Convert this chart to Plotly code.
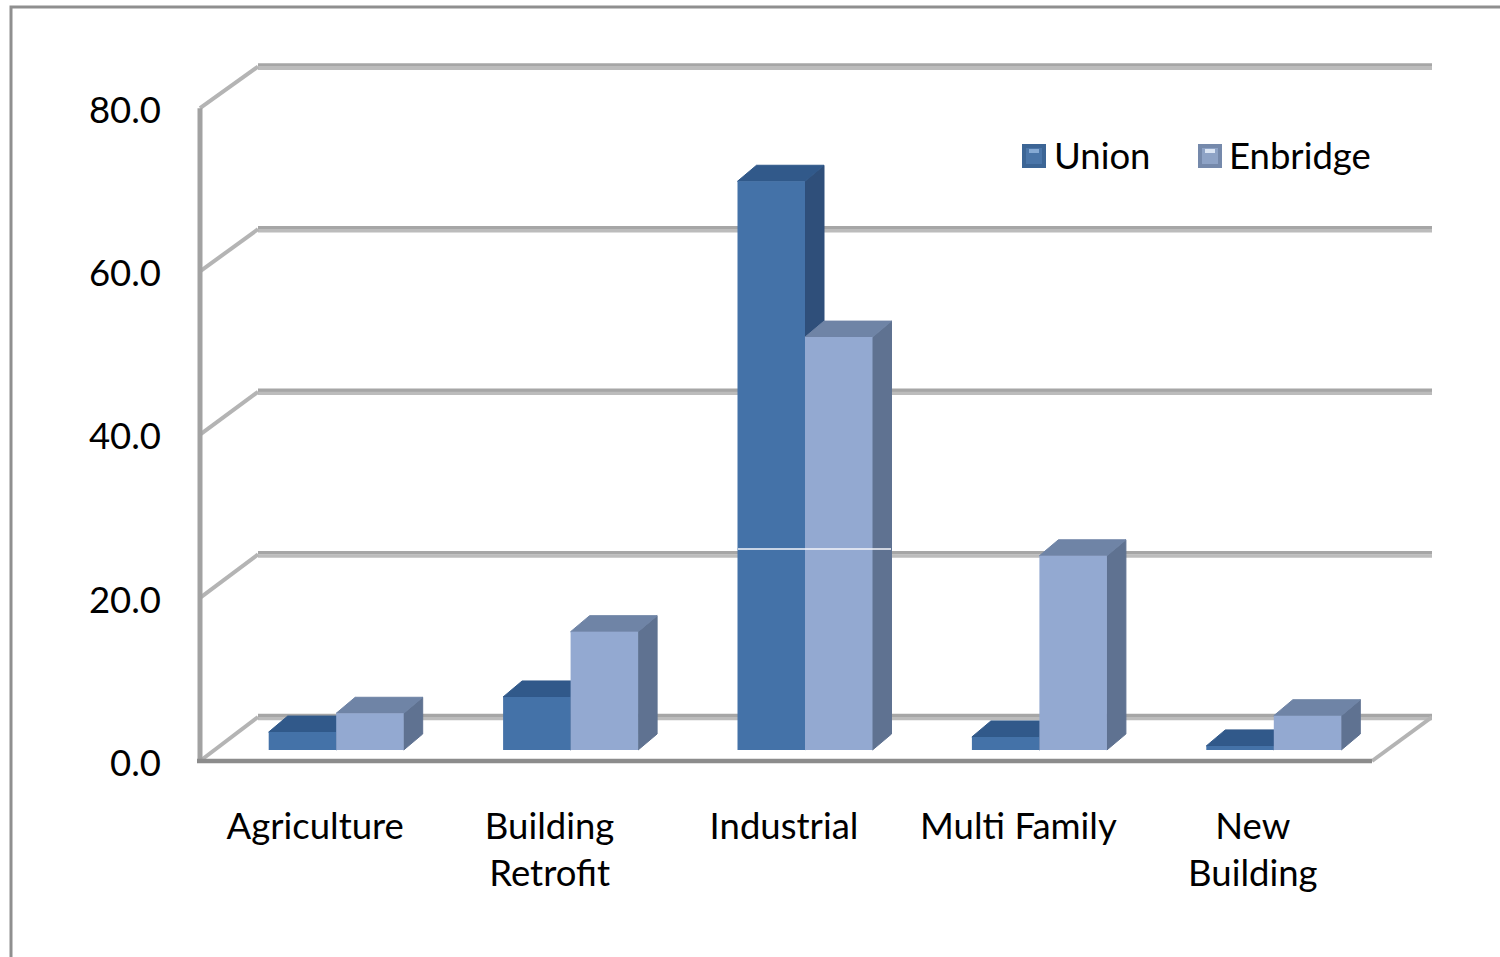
import plotly.graph_objects as go

# Chart data
categories = ["Agriculture", "Building<br>Retrofit", "Industrial", "Multi Family", "New<br>Building"]
union_values = [2.2, 6.5, 69.7, 1.6, 0.5]
enbridge_values = [4.5, 14.5, 50.6, 23.8, 4.2]
axis_ticks = [0, 20, 40, 60, 80]
axis_tick_labels = ["0.0", "20.0", "40.0", "60.0", "80.0"]

# Canvas and plot-area geometry, in page pixels
WIDTH, HEIGHT = 1500, 957
LEFT, RIGHT, TOP, BOTTOM = 190, 1432, 60, 770
AXIS_X, AXIS_Y = 200, 761
PX_PER_CAT = 234.4
PX_PER_UNIT = 8.16
FONT = "Lato"
FONT_SIZE = 36.5


def dx(px):
    return px / PX_PER_CAT


def dy(px):
    return px / PX_PER_UNIT


# Oblique projection offsets
WALL_DX, WALL_DY = dx(58), dy(44)
WALL_SCALE = 8.13 / PX_PER_UNIT
BAR_LIFT = dy(11)
BAR_SHIFT = dx(19)
BAR_WIDTH = dx(67.5)
BAR_DX, BAR_DY = dx(19), dy(16)

X_ORIGIN = -0.5
X_FLOOR_END = 4.5
X_MIN = X_ORIGIN - dx(AXIS_X - LEFT)
X_MAX = X_FLOOR_END + dx(RIGHT - 1372)
Y_MIN = -dy(BOTTOM - AXIS_Y)
Y_MAX = (AXIS_Y - TOP) / PX_PER_UNIT

fig = go.Figure()


def add_line(xs, ys, color, width, z=0):
    fig.add_trace(go.Scatter(x=xs, y=ys, mode="lines", line=dict(color=color, width=width),
                             hoverinfo="skip", showlegend=False, zorder=z))


# Back wall gridlines (two-tone band) and the slanted side-wall segments
for v in axis_ticks:
    wall_y = v * WALL_SCALE + WALL_DY
    add_line([X_ORIGIN + WALL_DX, X_MAX], [wall_y + dy(1.6), wall_y + dy(1.6)], "#a6a6a6", 3.4)
    add_line([X_ORIGIN + WALL_DX, X_MAX], [wall_y - dy(1.6), wall_y - dy(1.6)], "#bcbcbc", 3.4)
    add_line([X_ORIGIN, X_ORIGIN + WALL_DX], [v, wall_y], "#b4b4b4", 4)

# Front axis, floor edges
add_line([X_ORIGIN, X_ORIGIN], [-dy(2), axis_ticks[-1]], "#a2a2a2", 5)
add_line([X_FLOOR_END, X_MAX], [0, WALL_DY], "#b4b4b4", 4)
add_line([X_ORIGIN - dx(3), X_FLOOR_END], [0, 0], "#8c8c8c", 4.5)


def add_polygon(xs, ys, color, z):
    fig.add_trace(go.Scatter(x=xs, y=ys, mode="lines", fill="toself", fillcolor=color,
                             line=dict(color=color, width=1), hoverinfo="skip",
                             showlegend=False, zorder=z))


def add_series(name, values, offset, front, top, side, z):
    for i, v in enumerate(values):
        x0 = i + BAR_SHIFT + offset
        x1 = x0 + BAR_WIDTH
        y0 = BAR_LIFT
        y1 = BAR_LIFT + v
        add_polygon([x1, x1 + BAR_DX, x1 + BAR_DX, x1, x1],
                    [y0, y0 + BAR_DY, y1 + BAR_DY, y1, y0], side, z)
        add_polygon([x0, x0 + BAR_DX, x1 + BAR_DX, x1, x0],
                    [y1, y1 + BAR_DY, y1 + BAR_DY, y1, y1], top, z)
    fig.add_trace(go.Bar(
        x=[i + BAR_SHIFT + offset + BAR_WIDTH / 2 for i in range(len(values))],
        y=values, base=BAR_LIFT, width=BAR_WIDTH, name=name,
        marker=dict(color=front, line=dict(width=0)),
        showlegend=False, zorder=z + 1))


add_series("Union", union_values, -BAR_WIDTH, "#4472a8", "#31598a", "#2f4f7a", 1)
add_series("Enbridge", enbridge_values, 0, "#93a9d1", "#6f84a6", "#5f7291", 3)


def paper_x(px):
    return (px - LEFT) / (RIGHT - LEFT)


def paper_y(py):
    return (BOTTOM - py) / (BOTTOM - TOP)


shapes = [
    # Outer chart frame runs past the right and bottom of the page
    dict(type="rect", xref="paper", yref="paper", x0=paper_x(11), x1=paper_x(WIDTH + 20),
         y0=paper_y(HEIGHT + 20), y1=paper_y(7), line=dict(color="#8f8f8f", width=3),
         fillcolor="rgba(0,0,0,0)", layer="below"),
    # Thin light streak across the Industrial columns
    dict(type="line", xref="paper", yref="paper", x0=paper_x(738), x1=paper_x(891),
         y0=paper_y(549), y1=paper_y(549), line=dict(color="#f4f6fa", width=1.5), layer="above"),
]

# Legend swatches and labels
annotations = []
for x_px, text_px, label, outer, inner, glow in [
    (1022, 1052, "Union", "#3c6595", "#4a75a8", "#86aad4"),
    (1198, 1227, "Enbridge", "#7589ab", "#8ea3c6", "#dbe5f4"),
]:
    shapes.append(dict(type="rect", xref="paper", yref="paper", x0=paper_x(x_px), x1=paper_x(x_px + 24),
                       y0=paper_y(168), y1=paper_y(144), fillcolor=outer, line=dict(width=0), layer="above"))
    shapes.append(dict(type="rect", xref="paper", yref="paper", x0=paper_x(x_px + 4), x1=paper_x(x_px + 20),
                       y0=paper_y(164), y1=paper_y(148), fillcolor=inner, line=dict(width=0), layer="above"))
    shapes.append(dict(type="rect", xref="paper", yref="paper", x0=paper_x(x_px + 7), x1=paper_x(x_px + 17),
                       y0=paper_y(153), y1=paper_y(149), fillcolor=glow, line=dict(width=0), layer="above"))
    annotations.append(dict(xref="paper", yref="paper", x=paper_x(text_px), y=paper_y(155), text=label,
                            xanchor="left", yanchor="middle", showarrow=False,
                            font=dict(family=FONT, size=FONT_SIZE, color="#000000")))

fig.update_layout(
    width=WIDTH, height=HEIGHT,
    margin=dict(l=LEFT, r=WIDTH - RIGHT, t=TOP, b=HEIGHT - BOTTOM, autoexpand=False),
    paper_bgcolor="#ffffff", plot_bgcolor="rgba(0,0,0,0)",
    showlegend=False, barmode="overlay",
    font=dict(family=FONT, size=FONT_SIZE, color="#000000"),
    shapes=shapes, annotations=annotations,
    xaxis=dict(range=[X_MIN, X_MAX], tickmode="array", tickvals=list(range(len(categories))),
               ticktext=categories, showgrid=False, zeroline=False, showline=False,
               ticks="", ticklabelstandoff=31, ticklabelshift=-2, tickangle=0),
    yaxis=dict(range=[Y_MIN, Y_MAX], tickmode="array", tickvals=axis_ticks, ticktext=axis_tick_labels,
               showgrid=False, zeroline=False, showline=False, ticks="",
               ticklabelstandoff=28, ticklabelshift=2),
)

fig.write_html("out.html", config=dict(displayModeBar=False))
